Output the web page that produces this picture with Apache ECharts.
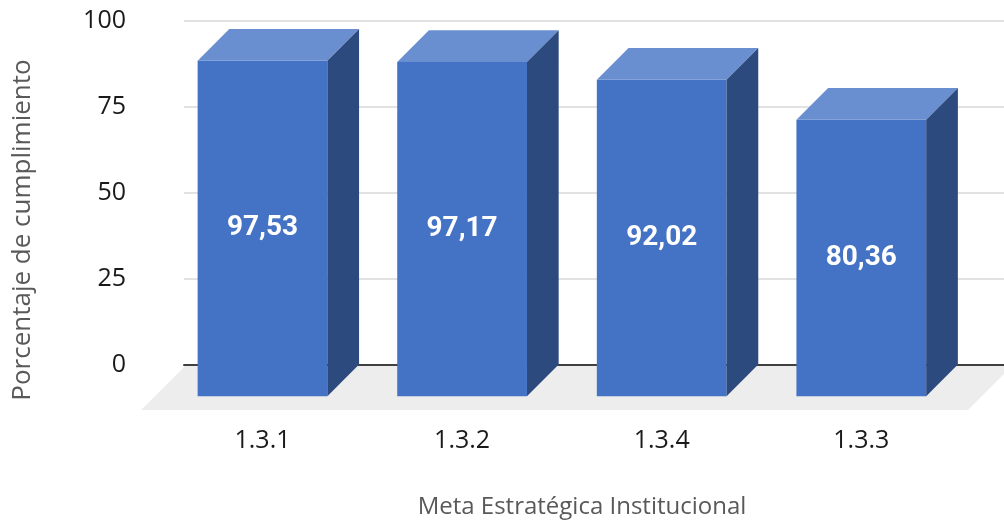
<!DOCTYPE html>
<html>
<head>
<meta charset="utf-8">
<script src="https://cdn.jsdelivr.net/npm/echarts@6/dist/echarts.min.js"></script>
<style>html,body{margin:0;padding:0;background:#fff;}#c{width:1004px;height:531px;}</style>
</head>
<body>
<div id="c"></div>
<script>
var categories = ['1.3.1', '1.3.2', '1.3.4', '1.3.3'];
var values = [97.53, 97.17, 92.02, 80.36];
var yTicks = [0, 25, 50, 75, 100];

var chart = echarts.init(document.getElementById('c'), null, {renderer: 'canvas'});
var D = 31.7;
var FRONT = '#4472C4', TOP = '#6A8FD0', SIDE = '#2D4A7F';

function fmt(v) { return v.toFixed(2).replace('.', ','); }

chart.setOption({
  animation: false,
  backgroundColor: '#ffffff',
  grid: [
    {left: 184, right: 0, top: 20.5, bottom: 166.5},
    {left: 162.7, right: 42.9, top: 20.5, bottom: 166.5}
  ],
  title: {
    text: 'Meta Estratégica Institucional',
    left: 577, top: 490, textAlign: 'center',
    textStyle: {fontFamily: 'Open Sans', fontSize: 24, fontWeight: 'normal', color: '#595959'}
  },
  graphic: [{
    type: 'text', x: 23, y: 230, rotation: Math.PI / 2,
    style: {text: 'Porcentaje de cumplimiento', fontFamily: 'Open Sans', fontSize: 26,
      fill: '#595959', align: 'center', verticalAlign: 'middle'}
  }],
  xAxis: [
    {gridIndex: 0, type: 'category', data: categories, boundaryGap: true,
      axisLine: {show: true, lineStyle: {color: '#404040', width: 2}},
      axisTick: {show: false}, axisLabel: {show: false}, splitLine: {show: false}},
    {gridIndex: 1, type: 'category', data: categories,
      axisLine: {show: false}, axisTick: {show: false},
      axisLabel: {margin: 64, fontFamily: 'Open Sans', fontSize: 25, color: '#1a1a1a'}}
  ],
  yAxis: [
    {gridIndex: 0, type: 'value', min: yTicks[0], max: yTicks[yTicks.length - 1], interval: 25,
      axisLine: {show: false}, axisTick: {show: false},
      axisLabel: {margin: 58, fontFamily: 'Open Sans', fontSize: 25, color: '#1a1a1a'},
      splitLine: {show: true, lineStyle: {color: '#d9d9d9', width: 1.5}}},
    {gridIndex: 1, type: 'value', min: 0, max: 100, interval: 25, show: false,
      splitLine: {show: false}}
  ],
  series: [
    {
      type: 'custom', xAxisIndex: 0, yAxisIndex: 0, z: 1,
      data: [[0, 0]],
      renderItem: function (params, api) {
        var cs = params.coordSys;
        var y0 = api.coord([0, 0])[1] + 1.5;
        var fd = 44;
        return {
          type: 'polygon',
          shape: {points: [[cs.x + 1, y0], [cs.x + cs.width + 8, y0],
            [cs.x + cs.width + 8 - fd, y0 + fd], [cs.x + 1 - fd, y0 + fd]]},
          style: {fill: '#ededed'}
        };
      }
    },
    {
      type: 'custom', xAxisIndex: 1, yAxisIndex: 1, z: 3,
      data: values.map(function (v, i) { return [i, v]; }),
      renderItem: function (params, api) {
        var i = api.value(0), v = api.value(1);
        var p = api.coord([i, v]);
        var y0 = api.coord([i, 0])[1];
        var w = api.size([1, 0])[0] * 0.65;
        var x1 = p[0] - w / 2, x2 = p[0] + w / 2;
        var yt = p[1];
        return {
          type: 'group',
          children: [
            {type: 'rect', shape: {x: x1, y: yt + D, width: w, height: y0 - yt}, style: {fill: FRONT}},
            {type: 'polygon', shape: {points: [[x1, yt + D], [x2, yt + D], [x2 + D, yt], [x1 + D, yt]]}, style: {fill: TOP}},
            {type: 'polygon', shape: {points: [[x2, yt + D], [x2 + D, yt], [x2 + D, y0], [x2, y0 + D]]}, style: {fill: SIDE}},
            {type: 'text', x: p[0], y: (yt + y0) / 2 + D,
              style: {text: fmt(v), fill: '#ffffff', fontFamily: 'Roboto', fontWeight: 'bold', fontSize: 28,
                align: 'center', verticalAlign: 'middle'}}
          ]
        };
      }
    }
  ]
});
</script>
</body>
</html>
